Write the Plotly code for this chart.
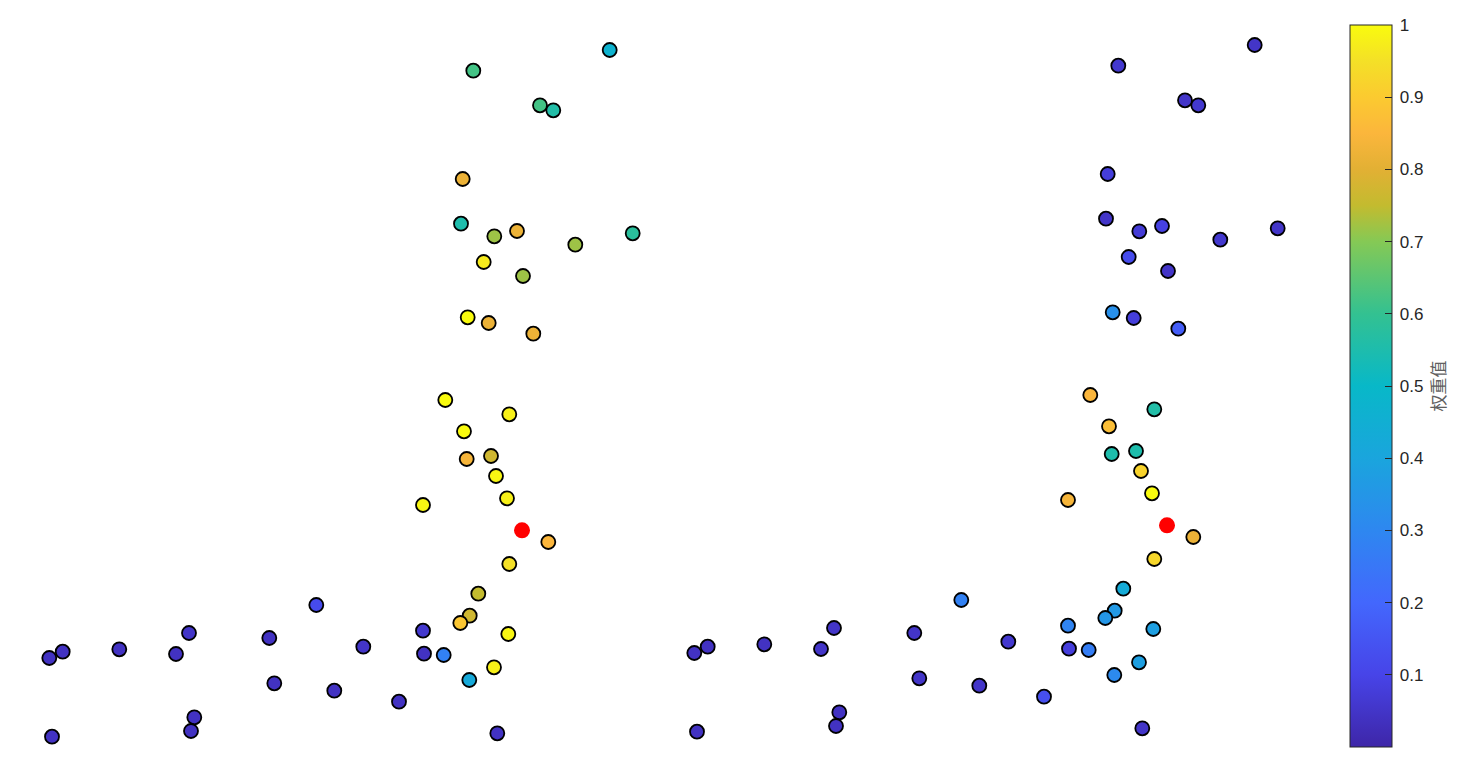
import plotly.graph_objects as go

# Point positions (same layout in both panels), y measured upward
px = [609.7, 473.3, 540, 553.3, 462.7, 461, 494.3, 517, 575.3, 632.7, 483.7, 523, 467.7, 488.7, 533.3,
      445.3, 509.3, 464, 466.7, 491, 496, 507, 423, 548.3, 509.3, 478.3, 469.7, 460.3, 508.3, 423, 424,
      443.7, 494, 469.3, 399, 497.3,
      49.3, 62.7, 119.3, 176, 189, 269.3, 316.3, 363.3, 274.3, 334.3, 194.3, 191, 52]
py_top = [50, 70.7, 105.3, 110.3, 179, 223.7, 236.3, 231, 244.7, 233.3, 262, 276, 317.3, 323, 333.7,
          400, 414.3, 431.3, 459, 456, 476, 498.3, 505, 542, 564, 593.7, 615.7, 623, 634, 630.7, 653.7,
          655, 667.3, 680, 701.7, 733.3,
          658, 651.7, 649.3, 654, 633, 638, 605, 646.7, 683.3, 690.7, 717.3, 731, 736.7]
y_vals = [768 - v for v in py_top]

# Weight values for the left and right panels
w_left = [0.47, 0.62, 0.62, 0.56, 0.82, 0.55, 0.72, 0.82, 0.72, 0.58, 0.97, 0.72, 1.0, 0.82, 0.82,
          1.0, 0.98, 1.0, 0.84, 0.77, 0.99, 0.98, 0.99, 0.85, 0.95, 0.75, 0.77, 0.89, 0.99, 0.06, 0.04,
          0.28, 0.98, 0.42, 0.04, 0.04,
          0.04, 0.04, 0.04, 0.04, 0.05, 0.04, 0.12, 0.05, 0.04, 0.04, 0.04, 0.04, 0.04]
w_right = [0.05, 0.06, 0.05, 0.06, 0.08, 0.05, 0.07, 0.09, 0.06, 0.05, 0.12, 0.05, 0.33, 0.08, 0.17,
           0.85, 0.56, 0.87, 0.55, 0.55, 0.92, 1.0, 0.84, 0.82, 0.93, 0.43, 0.36, 0.35, 0.38, 0.29, 0.08,
           0.27, 0.38, 0.31, 0.13, 0.05,
           0.04, 0.04, 0.04, 0.05, 0.05, 0.05, 0.28, 0.06, 0.05, 0.05, 0.04, 0.04, 0.04]

# Target (red) point
red_x = [522]
red_y = [768 - 530.3]

cb_ticks = [0.1, 0.2, 0.3, 0.4, 0.5, 0.6, 0.7, 0.8, 0.9, 1.0]
cb_text = ["0.1", "0.2", "0.3", "0.4", "0.5", "0.6", "0.7", "0.8", "0.9", "1"]

parula = [
    [0.00, "#3E26A8"], [0.10, "#4744E8"], [0.20, "#4367FD"], [0.30, "#2E87F0"],
    [0.40, "#1AA5DD"], [0.50, "#08B8C8"], [0.60, "#33C191"], [0.70, "#85C955"],
    [0.75, "#C3BB2F"], [0.80, "#E2B034"], [0.85, "#FBB63C"], [0.90, "#FBCA30"],
    [0.95, "#F4E027"], [1.00, "#F9FB0E"],
]

W, H = 1471, 768
OFF = 8  # page body margin

fig = go.Figure()
marker_common = dict(size=14, line=dict(color="black", width=1.8), coloraxis="coloraxis")
fig.add_trace(go.Scatter(x=px, y=y_vals, mode="markers",
                         marker=dict(color=w_left, **marker_common),
                         xaxis="x", yaxis="y", showlegend=False))
fig.add_trace(go.Scatter(x=red_x, y=red_y, mode="markers",
                         marker=dict(color="red", size=16, line=dict(width=0)),
                         xaxis="x", yaxis="y", showlegend=False))
fig.add_trace(go.Scatter(x=px, y=y_vals, mode="markers",
                         marker=dict(color=w_right, **marker_common),
                         xaxis="x2", yaxis="y2", showlegend=False))
fig.add_trace(go.Scatter(x=red_x, y=red_y, mode="markers",
                         marker=dict(color="red", size=16, line=dict(width=0)),
                         xaxis="x2", yaxis="y2", showlegend=False))

hidden = dict(visible=False, showgrid=False, zeroline=False, fixedrange=True)
fig.update_layout(
    width=W, height=H,
    margin=dict(l=0, r=0, t=0, b=0),
    paper_bgcolor="white", plot_bgcolor="rgba(0,0,0,0)",
    xaxis=dict(domain=[0, 645 / W], range=[OFF, 645 + OFF], **hidden),
    yaxis=dict(domain=[0, 1], range=[-OFF, 768 - OFF], **hidden),
    xaxis2=dict(domain=[645 / W, 1290 / W], range=[OFF, 645 + OFF], anchor="y2", **hidden),
    yaxis2=dict(domain=[0, 1], range=[-5 - OFF, 763 - OFF], anchor="x2", **hidden),
    coloraxis=dict(
        colorscale=parula, cmin=0, cmax=1,
        colorbar=dict(
            x=(1350 - OFF) / W, xanchor="left", xpad=0,
            y=1 - (25 - OFF) / H, yanchor="top", ypad=0,
            len=722 / H, lenmode="fraction",
            thickness=42, thicknessmode="pixels",
            outlinewidth=1, outlinecolor="#262626",
            ticks="inside", ticklen=7, tickwidth=1, tickcolor="#262626",
            tickvals=cb_ticks, ticktext=["\u2009" + t for t in cb_text],
            tickfont=dict(family="Liberation Sans, Arial", size=17, color="#262626"),
            title=dict(text="\u2009权重值", side="right",
                       font=dict(family="Noto Sans CJK SC", size=17, color="#606060")),
        ),
    ),
)

fig.write_html("out.html")
